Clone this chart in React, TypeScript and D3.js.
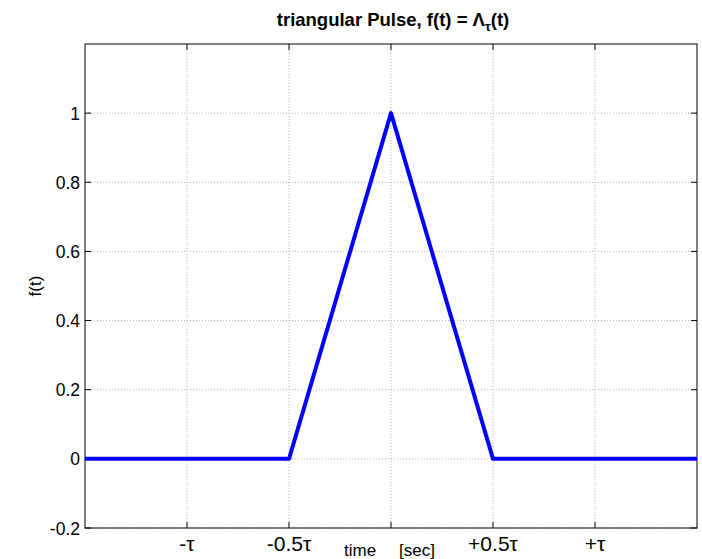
import React from "react";
import * as d3 from "d3";

const tData = [-1.5, -0.5, 0, 0.5, 1.5];
const fData = [0, 0, 1, 0, 0];
const xTicks = [-1, -0.5, 0, 0.5, 1];
const xTickLabels = ["-τ", "-0.5τ", "", "+0.5τ", "+τ"];
const yTicks = [-0.2, 0, 0.2, 0.4, 0.6, 0.8, 1];
const yTickLabels = ["-0.2", "0", "0.2", "0.4", "0.6", "0.8", "1"];

const W = 702, H = 559;
const L = 85, R = 697, T = 44, B = 528;

export default function App() {
  const x = d3.scaleLinear().domain([-1.5, 1.5]).range([L, R]);
  const y = d3.scaleLinear().domain([-0.2, 1.2]).range([B, T]);
  const line = d3.line<number>().x((_, i) => x(tData[i])).y((d) => y(d));
  const font = "Liberation Sans, Arial, sans-serif";
  return (
    <svg width={W} height={H} style={{ position: "absolute", left: 0, top: 0, background: "#fff" }}>
      <rect x={0} y={0} width={W} height={H} fill="#fff" />
      {xTicks.map((t, i) => (
        <g key={"gx" + i}>
          <line x1={x(t)} x2={x(t)} y1={T} y2={B} stroke="#b0b0b0" strokeWidth={1} strokeDasharray="1,2" />
          <line x1={x(t)} x2={x(t)} y1={B} y2={B - 6} stroke="#000" />
          <line x1={x(t)} x2={x(t)} y1={T} y2={T + 6} stroke="#000" />
          <text x={x(t)} y={551} textAnchor="middle" fontFamily={font} fontSize={21}>{xTickLabels[i]}</text>
        </g>
      ))}
      {yTicks.map((v, i) => (
        <g key={"gy" + i}>
          <line x1={L} x2={R} y1={y(v)} y2={y(v)} stroke="#b0b0b0" strokeWidth={1} strokeDasharray="1,2" />
          <line x1={L} x2={L + 6} y1={y(v)} y2={y(v)} stroke="#000" />
          <line x1={R} x2={R - 6} y1={y(v)} y2={y(v)} stroke="#000" />
          <text x={L - 5} y={y(v) + 6.5} textAnchor="end" fontFamily={font} fontSize={17.5}>{yTickLabels[i]}</text>
        </g>
      ))}
      <rect x={L} y={T} width={R - L} height={B - T} fill="none" stroke="#000" strokeWidth={1} />
      <path d={line(fData) || ""} fill="none" stroke="#0000ff" strokeWidth={4} strokeLinejoin="round" />
      <text x={393} y={26} textAnchor="middle" fontFamily={font} fontSize={18.5} fontWeight="bold">
        triangular Pulse, f(t) = Λ<tspan fontSize={13} dy={5}>τ</tspan><tspan dy={-5}>(t)</tspan>
      </text>
      <text x={344} y={556} fontFamily={font} fontSize={17}>time</text>
      <text x={399} y={556} fontFamily={font} fontSize={17}>[sec]</text>
      <text transform={`translate(41,${286}) rotate(-90)`} textAnchor="middle" fontFamily={font} fontSize={17}>f(t)</text>
    </svg>
  );
}
